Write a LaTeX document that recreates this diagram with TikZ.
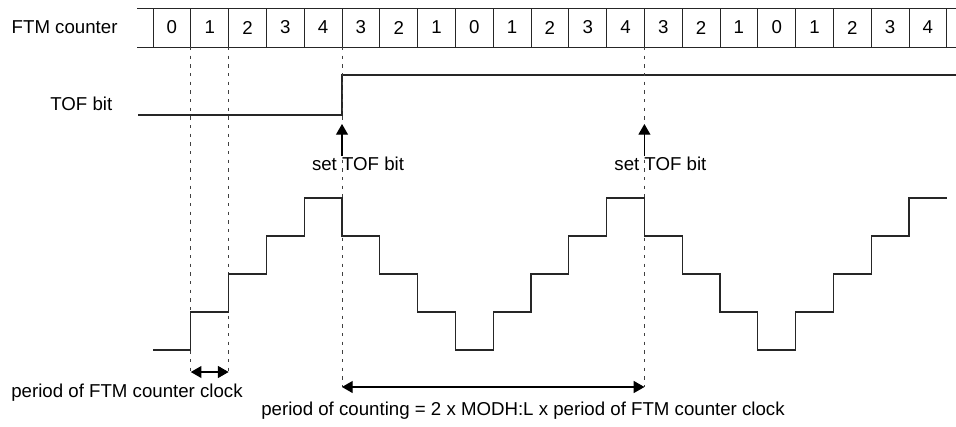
\documentclass[tikz,border=0pt]{standalone}
\usepackage{fontspec}
\setmainfont{Liberation Sans}
\usetikzlibrary{arrows.meta}

\begin{document}
\begin{tikzpicture}[x=0.75pt, y=-0.75pt, font=\fontsize{14}{16}\selectfont,
  sig/.style={line width=0.8pt, black!85},
  cell/.style={draw=black!85, line width=0.6pt, minimum width=28.35pt, minimum height=29.25pt, inner sep=0pt, outer sep=0pt},
  guide/.style={line width=0.6pt, dash pattern=on 2.5pt off 4pt, black!75},
  uparrow/.style={-{Triangle[length=8pt,width=9pt]}, line width=0.8pt},
  span/.style={{Triangle[length=8pt,width=9pt]}-{Triangle[length=8pt,width=9pt]}, line width=0.8pt}]
  \useasboundingbox (0,0) rectangle (956,426);

  % FTM counter row
  \node[anchor=west] (ctrlabel) at (7,27) {FTM counter};
  \foreach \v [count=\i from 0] in {0,1,2,3,4,3,2,1,0,1,2,3,4,3,2,1,0,1,2,3,4} {
    \node[cell] (c\i) at ({153+37.8*\i+18.9},27.5) {\v};
  }
  \draw[sig, line width=0.6pt] (137,8) -- (c0.north west);
  \draw[sig, line width=0.6pt] (137,47) -- (c0.south west);
  \draw[sig, line width=0.6pt] (c20.north east) -- (956,8);
  \draw[sig, line width=0.6pt] (c20.south east) -- (956,47);

  % TOF bit
  \node[anchor=east] (toflabel) at (117,104) {TOF bit};
  \coordinate (tofstart) at (138,115);
  \coordinate (tofrise) at (342,115);
  \coordinate (tofhigh) at (342,75);
  \coordinate (tofend) at (956,75);
  \draw[sig] (tofstart) -- (tofrise) -- (tofhigh) -- (tofend);

  % Guides
  \coordinate (g1) at (c1.south west |- 0,372);
  \coordinate (g2) at (c2.south west |- 0,372);
  \coordinate (g5) at (c5.south west |- 0,387);
  \coordinate (g13) at (c13.south west |- 0,387);
  \draw[guide] (c1.south west) -- (g1);
  \draw[guide] (c2.south west) -- (g2);
  \draw[guide] (c5.south west) -- (g5);
  \draw[guide] (c13.south west) -- (g13);

  % set TOF bit markers
  \foreach \k in {5,13} {
    \coordinate (setbase\k) at (c\k.south west |- 0,156);
    \coordinate (settip\k) at (c\k.south west |- 0,124);
    \draw[uparrow] (setbase\k) -- (settip\k);
    \node (set\k) at ([xshift=12pt]c\k.south west |- 0,164) {set TOF bit};
  }

  % Counter waveform
  \draw[sig] (153,350)
    \foreach \v [count=\i from 0] in {0,1,2,3,4,3,2,1,0,1,2,3,4,3,2,1,0,1,2,3,4} {
      -- ({153+37.8*\i},{350-38*\v}) -- ({153+37.8*(\i+1)},{350-38*\v})
    };

  % Periods
  \draw[span] (g1) -- (g2);
  \node (clklabel) at (127,393) {period of FTM counter clock};
  \draw[span] (g5) -- (g13);
  \node (cntlabel) at (523,411) {period of counting = 2 x MODH:L x period of FTM counter clock};
\end{tikzpicture}
\end{document}
